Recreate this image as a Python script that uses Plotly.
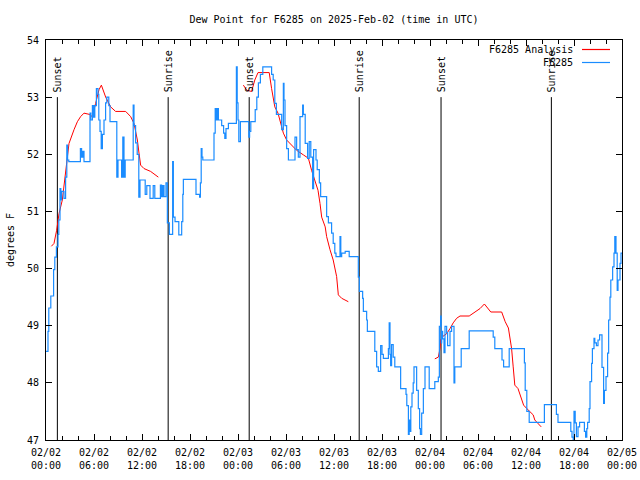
import pandas as pd
import plotly.graph_objects as go

BASE = pd.Timestamp("2025-02-02 00:00")

# Observed dew point (step data): hours since 2025-02-02 00:00 UTC, deg F
obs_hours = [0.0, 0.25, 0.35, 0.6, 0.95, 1.1, 1.3, 1.5, 1.6, 1.75, 1.85, 1.95, 2.25, 2.45, 2.6, 2.7, 2.85,
             4.3, 4.45, 4.6, 4.75, 5.5, 5.6, 5.8, 5.95, 6.1, 6.3, 6.5, 6.6, 6.75, 6.9, 7.05, 7.25, 7.45,
             7.6, 7.85, 8.0, 8.85, 9.0, 9.45, 9.6, 9.75, 9.9, 10.9, 11.0, 11.2, 11.4, 11.6, 11.75, 12.4,
             12.6, 13.0, 13.4, 13.6, 14.3, 14.45, 14.6, 14.75, 15.0, 15.17, 15.42, 15.83, 15.92, 16.13,
             16.6, 16.96, 17.1, 17.17, 18.75, 19.2, 19.3, 19.4, 19.5, 19.6, 21.0, 21.15, 21.3, 21.45,
             21.55, 21.96, 22.2, 22.35, 22.5, 22.8, 23.8, 23.9, 24.0, 24.1, 24.3, 25.35, 25.45, 25.6,
             26.15, 26.35, 26.55, 26.8, 27.1, 28.2, 28.4, 28.6, 28.8, 29.46, 29.67, 29.75, 29.875, 30.08,
             30.3, 31.125, 31.33, 31.54, 31.75, 32.08, 32.17, 32.4, 32.7, 32.9, 33.1, 33.33, 33.45, 33.75,
             33.9, 34.17, 34.33, 35.08, 35.3, 35.7, 35.9, 36.1, 36.25, 36.75, 36.85, 36.96, 37.4, 37.9,
             39.04, 39.17, 39.58, 39.67, 40.08, 40.17, 41.1, 41.33, 41.54, 41.83, 42.0, 42.17, 42.8, 42.9,
             43.0, 43.08, 43.2, 43.4, 43.6, 44.33, 45.0, 45.1, 45.3, 45.4, 45.5, 45.6, 45.75, 45.9, 46.0,
             46.33, 46.54, 46.7, 46.8, 46.96, 47.17, 47.375, 47.9, 48.6, 49.04, 49.17, 49.33, 49.4, 49.46,
             49.58, 49.75, 49.875, 50.08, 50.2, 50.5, 50.7, 51.0, 51.1, 51.9, 52.9, 55.9, 56.1, 57.0,
             57.2, 57.9, 59.8, 59.9, 60.1, 60.4, 62.3, 63.8, 64.0, 65.6, 65.75, 65.9, 66.0, 66.15, 66.3,
             66.5, 66.7, 67.3, 67.45, 67.6, 67.7, 67.9, 68.0, 68.2, 68.3, 68.5, 68.6, 68.8, 69.0, 69.2,
             69.5, 69.7, 69.8, 70.0, 70.2, 70.33, 70.5, 70.6, 70.83, 71.0, 71.1, 71.25, 71.4, 71.5, 71.75,
             71.875, 72.0]
obs_dewpt = [48.55, 48.9, 49.31, 49.52, 49.98, 50.2, 50.38, 50.6, 50.85, 51.4, 51.2, 51.35, 51.23, 51.6, 52.16, 51.9, 51.87,
             52.1, 51.95, 52.05, 51.87, 52.72, 52.6, 52.85, 52.65, 52.85, 53.15, 53.05, 52.6, 52.4, 52.1, 52.35, 52.6, 52.9,
             53.0, 52.85, 52.57, 51.6, 51.9, 51.6, 52.3, 51.6, 51.9, 52.86, 52.5, 52.2, 52.0, 51.25, 51.55, 51.3,
             51.45, 51.23, 51.45, 51.23, 51.46, 51.26, 51.45, 51.26, 51.5, 50.8, 50.6, 51.87, 50.9, 50.82,
             50.59, 50.82, 51.3, 51.56, 51.3, 51.25, 51.5, 52.1, 51.95, 51.9, 52.37, 52.8, 52.6, 52.8,
             52.6, 52.5, 52.37, 52.28, 52.45, 52.54, 53.53, 52.9, 52.6, 52.22, 52.57, 52.3, 52.4, 52.57,
             52.78, 53.0, 53.25, 53.4, 53.53, 53.4, 53.3, 52.89, 52.7, 52.43, 53.24, 52.95, 52.5, 52.1,
             51.9, 52.3, 52.08, 51.95, 52.66, 52.86, 52.7, 52.19, 51.93, 52.22, 51.95, 51.4, 52.08, 51.9,
             51.73, 51.5, 51.26, 50.91, 50.8, 50.62, 50.44, 50.27, 50.21, 50.56, 50.21, 50.27, 50.3, 50.21,
             49.85, 49.6, 49.48, 49.25, 49.1, 48.9, 48.55, 48.28, 48.2, 48.65, 48.5, 48.43, 48.6, 49.05,
             48.5, 48.3, 48.67, 48.45, 48.28, 47.9, 47.8, 47.6, 47.1, 47.35, 47.15, 47.58, 47.82, 48.0, 48.28,
             47.87, 47.55, 47.2, 47.1, 47.47, 47.9, 48.28, 47.9, 48.02, 48.1, 48.99, 49.17, 48.7, 48.9,
             48.77, 48.53, 48.99, 48.88, 48.65, 48.9, 48.99, 48.0, 48.28, 48.6, 48.91, 48.8, 48.6, 48.4,
             48.28, 48.6, 48.35, 47.87, 47.5, 47.31, 47.62, 47.45, 47.31, 47.15, 47.05, 46.95, 47.5, 47.3, 47.06,
             47.23, 47.31, 47.15, 47.05, 47.2, 47.31, 47.55, 48.02, 48.34, 48.6, 48.78, 48.7, 48.65, 48.75, 48.84,
             48.27, 47.64, 47.87, 48.11, 48.52, 49.1, 49.5, 49.8, 50.03, 50.27, 50.56, 50.27, 49.62, 49.8, 50.09,
             50.27, 50.27]

# Analysis dew point (None = gap)
ana_hours = [0.67, 1.0, 1.33, 1.625, 2.04, 2.33, 2.67, 2.875, 3.5, 3.92, 4.33, 4.75, 5.375, 5.79, 6.2, 6.625,
             6.92, 7.46, 8.08, 8.7, 9.96, 10.58, 11.0, 11.42, 11.625, 11.83, 12.25, 13.08, 14.04, None,
             24.67, 25.1, 25.7, 26.1, 26.5, 27.9, 28.2, 28.6, 29.0, 29.25, 29.67, 30.08, 30.7, 31.33, 32.17,
             32.8, 33.2, 33.6, 34.0, 34.25, 34.46, 34.9, 35.08, 35.5, 35.9, 36.33, 36.54, 36.96, 37.79, None,
             48.6, 49.04, 49.25, 49.33, 49.58, 50.08, 50.5, 50.9, 51.33, 51.75, 52.9, 53.2, 53.8, 54.25, 54.8,
             55.3, 55.6, 56.96, 57.4, 57.8, 58.0, 58.2, 58.4, 58.6, 59.0, 59.25, 59.46, 59.7, 60.1, 60.5,
             60.9, 61.1, 61.45, 61.9]
ana_dewpt = [50.39, 50.44, 50.67, 50.96, 51.2, 51.55, 51.9, 52.19, 52.43, 52.57, 52.66, 52.72, 52.7, 52.66, 52.89, 53.13,
             53.21, 53.0, 52.83, 52.75, 52.75, 52.66, 52.54, 52.25, 52.02, 51.81, 51.75, 51.7, 51.6, None,
             53.21, 53.12, 53.1, 53.3, 53.43, 53.43, 53.15, 52.83, 52.72, 52.6, 52.37, 52.25, 52.16, 52.07, 51.99,
             51.93, 51.72, 51.55, 51.37, 51.14, 50.9, 50.73, 50.56, 50.33, 50.15, 49.86, 49.54, 49.48, 49.42, None,
             48.42, 48.45, 48.6, 48.75, 48.81, 48.86, 48.95, 49.05, 49.13, 49.17, 49.17, 49.2, 49.26, 49.3, 49.38,
             49.28, 49.24, 49.24, 49.07, 48.96, 48.8, 48.6, 48.28, 47.96, 47.9, 47.78, 47.7, 47.61, 47.55, 47.5,
             47.44, 47.35, 47.29, 47.23]

# Sun events (hours since start)
sun_labels = ["Sunset", "Sunrise", "Sunset", "Sunrise", "Sunset", "Sunrise"]
sun_hours = [1.42, 15.27, 25.4, 39.15, 49.38, 63.17]

tick_hours = [0, 6, 12, 18, 24, 30, 36, 42, 48, 54, 60, 66, 72]
tick_labels = ["02/02<br>00:00", "02/02<br>06:00", "02/02<br>12:00", "02/02<br>18:00",
               "02/03<br>00:00", "02/03<br>06:00", "02/03<br>12:00", "02/03<br>18:00",
               "02/04<br>00:00", "02/04<br>06:00", "02/04<br>12:00", "02/04<br>18:00",
               "02/05<br>00:00"]


def to_time(hours):
    return [None if h is None else BASE + pd.Timedelta(hours=h) for h in hours]


FONT = "DejaVu Sans Mono"
RED = "#ff0000"
BLUE = "#1a8cff"

fig = go.Figure()
fig.add_trace(go.Scatter(x=to_time(ana_hours), y=ana_dewpt, mode="lines",
                         line=dict(color=RED, width=1), name="F6285 Analysis",
                         connectgaps=False, showlegend=False))
fig.add_trace(go.Scatter(x=to_time(obs_hours), y=obs_dewpt, mode="lines",
                         line=dict(color=BLUE, width=1.2, shape="hv"), name="F6285",
                         showlegend=False))

for lab, t in zip(sun_labels, to_time(sun_hours)):
    fig.add_shape(type="line", x0=t, x1=t, y0=47, y1=53, xref="x", yref="y",
                  line=dict(color="black", width=1), layer="below")
    fig.add_annotation(x=t, y=53, xref="x", yref="y", text=lab, textangle=-90,
                       showarrow=False, xanchor="center", yanchor="bottom", yshift=3,
                       font=dict(family=FONT, size=10, color="black"))

# manual legend (text left, sample right)
for name, col, ypx in [("F6285 Analysis", RED, 49.5), ("F6285", BLUE, 62.5)]:
    yp = (440 - ypx) / 400
    fig.add_annotation(x=(575 - 46) / 576, y=yp, xref="paper", yref="paper", text=name,
                       showarrow=False, xanchor="right", yanchor="middle",
                       font=dict(family=FONT, size=10, color="black"))
    fig.add_shape(type="line", xref="paper", yref="paper", x0=(582 - 46) / 576, x1=(610 - 46) / 576,
                  y0=yp, y1=yp, line=dict(color=col, width=1.2))

fig.update_layout(
    width=640, height=480,
    margin=dict(l=46, r=18, t=40, b=40, autoexpand=False),
    paper_bgcolor="white", plot_bgcolor="white",
    font=dict(family=FONT, size=10, color="black"),
    title=dict(text="Dew Point for F6285 on 2025-Feb-02 (time in UTC)", x=0.5, xref="paper",
               y=1 - 19 / 480, yanchor="middle", xanchor="center",
               font=dict(family=FONT, size=10, color="black")),
    xaxis=dict(type="date", range=[BASE, BASE + pd.Timedelta(hours=72)],
               tickvals=to_time(tick_hours), ticktext=tick_labels,
               ticks="inside", ticklen=6, tickcolor="black", showgrid=False, zeroline=False,
               showline=True, linecolor="black", linewidth=1, mirror="allticks",
               ticklabelstandoff=3,
               minor=dict(dtick=2 * 3600 * 1000, ticks="inside", ticklen=4, tickcolor="black", showgrid=False),
               tickfont=dict(family=FONT, size=10)),
    yaxis=dict(range=[47, 54], dtick=1, ticks="inside", ticklen=6, tickcolor="black",
               showgrid=False, zeroline=False, showline=True, linecolor="black", linewidth=1,
               mirror="allticks", tickfont=dict(family=FONT, size=10), ticklabelstandoff=4,
               title=dict(text="degrees F", standoff=10, font=dict(family=FONT, size=10))),
)

fig.write_html("out.html", config={"displayModeBar": False},
               post_script="document.body.style.margin='0';document.body.style.overflow='hidden';")
